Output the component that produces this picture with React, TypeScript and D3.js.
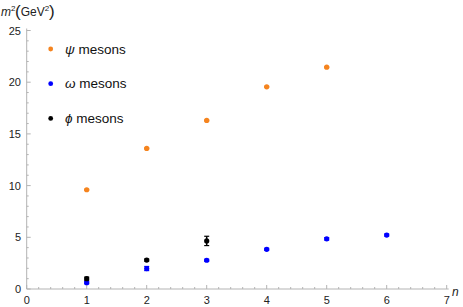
import React from "react";
import * as d3 from "d3";

const nPsi = [1, 2, 3, 4, 5];
const psiValues = [9.6, 13.6, 16.3, 19.55, 21.45];
const nOmega = [1, 2, 3, 4, 5, 6];
const omegaValues = [0.61, 1.98, 2.78, 3.84, 4.85, 5.22];
const omegaErr = [0.1, 0.2, 0.1, 0.1, 0.12, 0.1];
const nPhi = [1, 2, 3];
const phiValues = [1.0, 2.8, 4.65];
const phiErr = [0.15, 0.1, 0.45];
const xTicks = [0, 1, 2, 3, 4, 5, 6, 7];
const yTicks = [0, 5, 10, 15, 20, 25];
const legendLabels = [
  { sym: "ψ", text: " mesons" },
  { sym: "ω", text: " mesons" },
  { sym: "ϕ", text: " mesons" },
];

const W = 463, H = 307;
const ORANGE = "#f5841f";
const BLUE = "#0000ff";
const BLACK = "#000000";
const AX = "#b3b3b3";

export default function App() {
  const x = d3.scaleLinear().domain([0, 7]).range([26.7, 446.7]);
  const y = d3.scaleLinear().domain([0, 25]).range([289, 30.5]);
  const minorX = d3.range(0, 7.001, 0.2).filter((v) => Math.abs(v - Math.round(v)) > 1e-6);
  const minorY = d3.range(0, 25.001, 1).filter((v) => v % 5 !== 0);
  const font = "'Liberation Sans', Arial, sans-serif";

  const series = [
    { ns: nOmega, vals: omegaValues, errs: omegaErr, color: BLUE },
    { ns: nPhi, vals: phiValues, errs: phiErr, color: BLACK },
    { ns: nPsi, vals: psiValues, errs: psiValues.map(() => 0.05), color: ORANGE },
  ];

  return (
    <svg width={W} height={H} style={{ position: "absolute", left: 0, top: 0 }} fontFamily={font}>
      <rect width={W} height={H} fill="white" />
      {/* axes */}
      <line x1={x(0)} x2={x(7) + 2} y1={y(0)} y2={y(0)} stroke={AX} strokeWidth={1} />
      <line x1={x(0)} x2={x(0)} y1={y(0)} y2={y(25) - 2} stroke={AX} strokeWidth={1} />
      {xTicks.map((t) => (
        <g key={"xt" + t}>
          <line x1={x(t)} x2={x(t)} y1={y(0)} y2={y(0) - 4} stroke={AX} />
          <text x={x(t)} y={304} textAnchor="middle" fontSize={11} fill="#222">{t}</text>
        </g>
      ))}
      {minorX.map((t) => (
        <line key={"xm" + t} x1={x(t)} x2={x(t)} y1={y(0)} y2={y(0) - 2} stroke={AX} />
      ))}
      {yTicks.map((t) => (
        <g key={"yt" + t}>
          <line x1={x(0)} x2={x(0) + 4} y1={y(t)} y2={y(t)} stroke={AX} />
          <text x={21} y={y(t) + 4} textAnchor="end" fontSize={11} fill="#222">{t}</text>
        </g>
      ))}
      {minorY.map((t) => (
        <line key={"ym" + t} x1={x(0)} x2={x(0) + 2} y1={y(t)} y2={y(t)} stroke={AX} />
      ))}
      {/* axis labels */}
      <text x={1} y={16} fontSize={12} fill="#222">
        <tspan fontStyle="italic">m</tspan>
        <tspan fontSize={8} dy={-5}>2</tspan>
        <tspan fontSize={17} dy={6} dx={-0.5} fontWeight={200}>(</tspan>
        <tspan fontSize={12} dy={-1}>GeV</tspan>
        <tspan fontSize={8} dy={-5}>2</tspan>
        <tspan fontSize={17} dy={6} fontWeight={200}>)</tspan>
      </text>
      <text x={452} y={296} fontSize={12} fontStyle="italic" fill="#222">n</text>
      {/* data */}
      {series.map((s, si) => (
        <g key={"s" + si}>
          {s.ns.map((n, i) => {
            const cx = x(n), v = s.vals[i], e = s.errs[i];
            return (
              <g key={i}>
                <line x1={cx} x2={cx} y1={y(v - e)} y2={y(v + e)} stroke={s.color} strokeWidth={1.5} />
                <line x1={cx - 2.5} x2={cx + 2.5} y1={y(v - e)} y2={y(v - e)} stroke={s.color} strokeWidth={1.2} />
                <line x1={cx - 2.5} x2={cx + 2.5} y1={y(v + e)} y2={y(v + e)} stroke={s.color} strokeWidth={1.2} />
                <circle cx={cx} cy={y(v)} r={2.6} fill={s.color} />
              </g>
            );
          })}
        </g>
      ))}
      {/* legend */}
      {legendLabels.map((l, i) => (
        <g key={"lg" + i}>
          <circle cx={50.7} cy={49 + i * 34.7} r={2.4} fill={[ORANGE, BLUE, BLACK][i]} />
          <text x={65} y={53.5 + i * 34.7} fontSize={13.5} fill="#111">
            <tspan fontStyle="italic">{l.sym}</tspan>
            <tspan>{l.text}</tspan>
          </text>
        </g>
      ))}
    </svg>
  );
}
